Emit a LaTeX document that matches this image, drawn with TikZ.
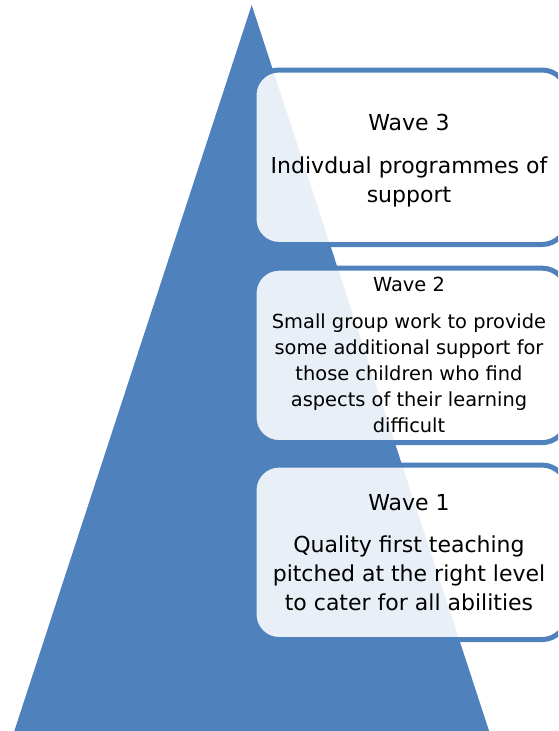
\documentclass[tikz,border=0pt]{standalone}
\usepackage{fontspec}
\setmainfont{DejaVu Sans}
\definecolor{wblue}{HTML}{4F81BD}
\begin{document}
\begin{tikzpicture}[x=1pt,y=-1pt,
  wavebox/.style={draw=wblue, line width=5pt, rounded corners=25pt, fill=white,
    fill opacity=0.875, minimum width=313pt, minimum height=174.5pt, inner sep=0pt, outer sep=0pt},
  bigtxt/.style={font=\fontsize{22}{29}\selectfont, anchor=base, inner sep=0pt, text=black},
  smalltxt/.style={font=\fontsize{19.4}{26.1}\selectfont, anchor=base, inner sep=0pt, text=black}]
\useasboundingbox (0,0) rectangle (558,731);
\clip (0,0) rectangle (558,731);
% pyramid
\coordinate (apex) at (251.7,5);
\coordinate (bl) at (11.7,739);
\coordinate (br) at (491.7,739);
\fill[wblue] (apex) -- (bl) -- (br) -- cycle;
% boxes
\node[wavebox] (box3) at (410.5,157.25) {};
\node[wavebox] (box2) at (410.5,355.4) {};
\node[wavebox] (box1) at (410.5,552.3) {};
% texts
\node[bigtxt] (t3) at (409,130.7) {Wave 3};
\node[bigtxt] (b3) at (409,173.3) {\setlength{\tabcolsep}{0pt}\begin{tabular}[t]{c}Indivdual programmes of\\ support\end{tabular}};
\node[smalltxt] (t2) at (409,291) {Wave 2};
\node[smalltxt] (b2) at (409,328.3) {\setlength{\tabcolsep}{0pt}\begin{tabular}[t]{c}Small group work to provide\\ some additional support for\\ those children who find\\ aspects of their learning\\ difficult\end{tabular}};
\node[bigtxt] (t1) at (409,510) {Wave 1};
\node[bigtxt] (b1) at (409,552.7) {\setlength{\tabcolsep}{0pt}\begin{tabular}[t]{c}Quality first teaching\\ pitched at the right level\\ to cater for all abilities\end{tabular}};
\end{tikzpicture}
\end{document}
